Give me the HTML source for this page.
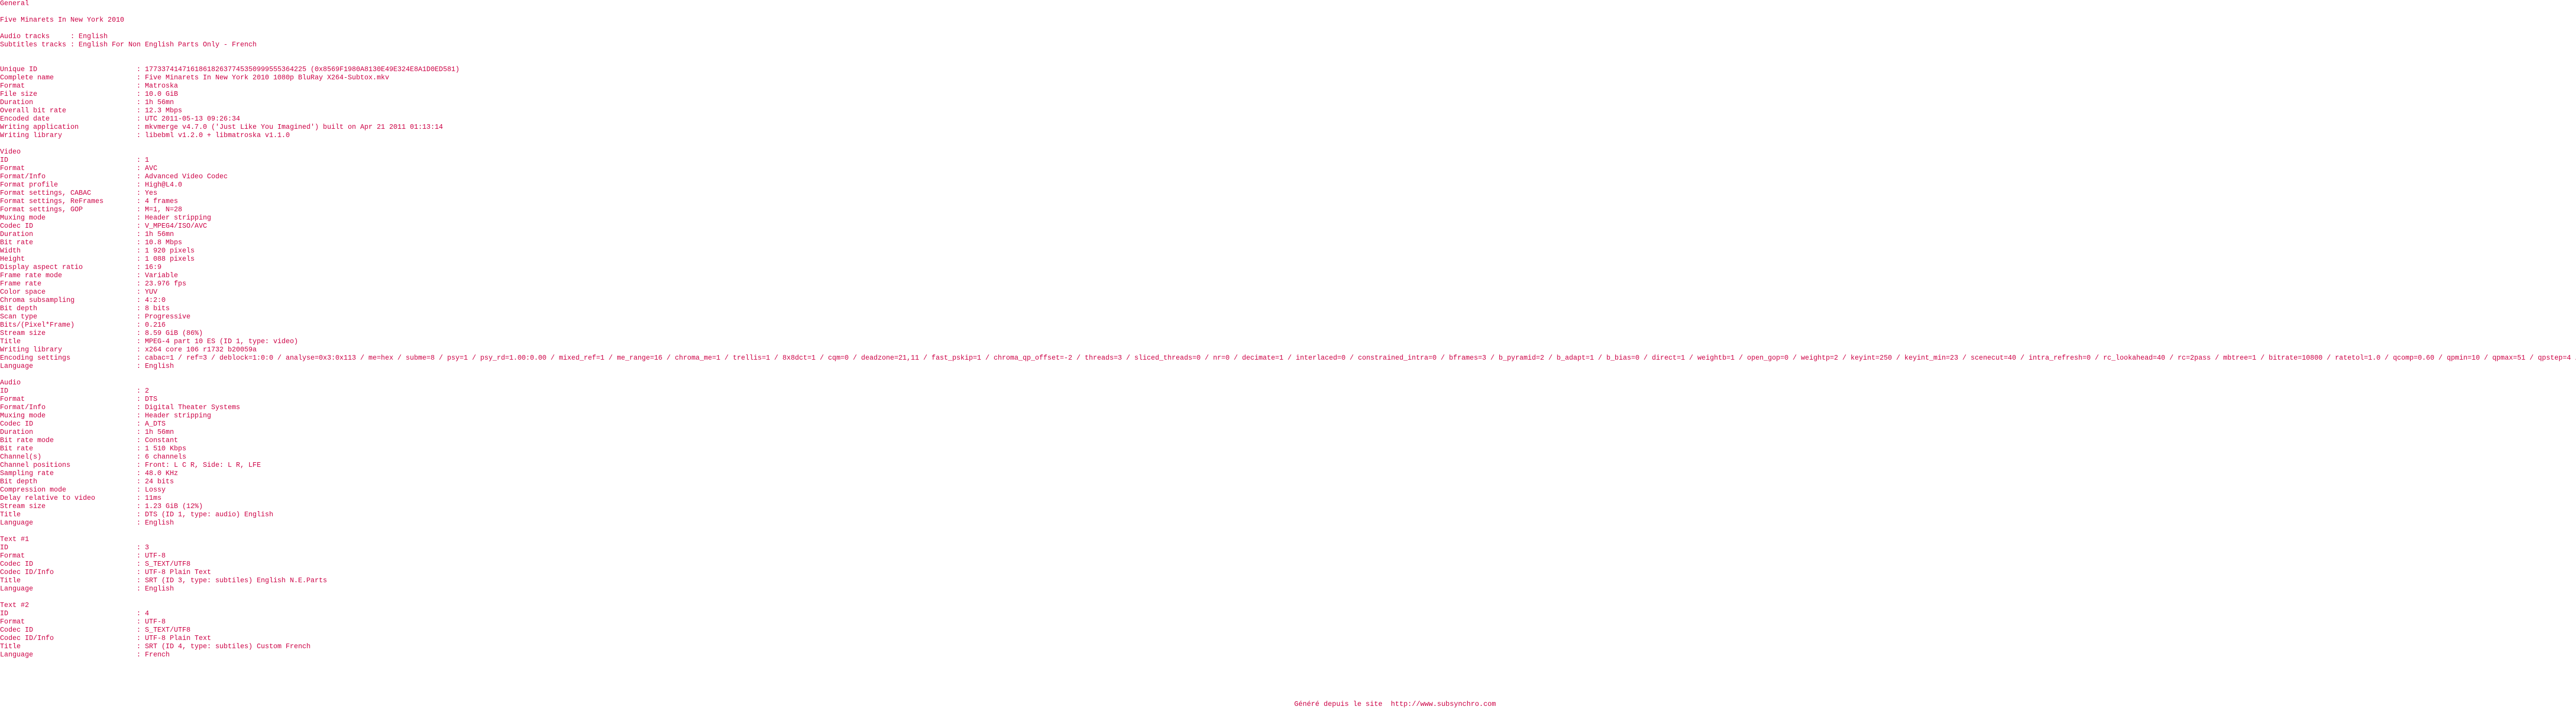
<!DOCTYPE html>
<html><head><meta charset="utf-8"><style>
html,body{margin:0;padding:0;background:#fff;width:5416px;height:1376px;overflow:hidden;position:relative}
.wrap{position:absolute;left:0;top:0;width:5416px;height:1376px;overflow:hidden}
pre{position:absolute;left:0;top:0;width:5416px;overflow:hidden;margin:0;font-family:"Liberation Mono",monospace;font-size:13.4px;line-height:16px;color:#cc0044;white-space:pre}
.f{position:absolute;left:2512px;top:1361px;font-family:"Liberation Mono",monospace;font-size:13.6px;line-height:14px;color:#cc0044;white-space:pre}
</style></head><body>
<div class="wrap">
<pre>General

Five Minarets In New York 2010

Audio tracks     : English
Subtitles tracks : English For Non English Parts Only - French


Unique ID                        : 177337414716186182637745350999555364225 (0x8569F1980A8130E49E324E8A1D0ED581)
Complete name                    : Five Minarets In New York 2010 1080p BluRay X264-Subtox.mkv
Format                           : Matroska
File size                        : 10.0 GiB
Duration                         : 1h 56mn
Overall bit rate                 : 12.3 Mbps
Encoded date                     : UTC 2011-05-13 09:26:34
Writing application              : mkvmerge v4.7.0 ('Just Like You Imagined') built on Apr 21 2011 01:13:14
Writing library                  : libebml v1.2.0 + libmatroska v1.1.0

Video
ID                               : 1
Format                           : AVC
Format/Info                      : Advanced Video Codec
Format profile                   : High@L4.0
Format settings, CABAC           : Yes
Format settings, ReFrames        : 4 frames
Format settings, GOP             : M=1, N=28
Muxing mode                      : Header stripping
Codec ID                         : V_MPEG4/ISO/AVC
Duration                         : 1h 56mn
Bit rate                         : 10.8 Mbps
Width                            : 1 920 pixels
Height                           : 1 088 pixels
Display aspect ratio             : 16:9
Frame rate mode                  : Variable
Frame rate                       : 23.976 fps
Color space                      : YUV
Chroma subsampling               : 4:2:0
Bit depth                        : 8 bits
Scan type                        : Progressive
Bits/(Pixel*Frame)               : 0.216
Stream size                      : 8.59 GiB (86%)
Title                            : MPEG-4 part 10 ES (ID 1, type: video)
Writing library                  : x264 core 106 r1732 b20059a
Encoding settings                : cabac=1 / ref=3 / deblock=1:0:0 / analyse=0x3:0x113 / me=hex / subme=8 / psy=1 / psy_rd=1.00:0.00 / mixed_ref=1 / me_range=16 / chroma_me=1 / trellis=1 / 8x8dct=1 / cqm=0 / deadzone=21,11 / fast_pskip=1 / chroma_qp_offset=-2 / threads=3 / sliced_threads=0 / nr=0 / decimate=1 / interlaced=0 / constrained_intra=0 / bframes=3 / b_pyramid=2 / b_adapt=1 / b_bias=0 / direct=1 / weightb=1 / open_gop=0 / weightp=2 / keyint=250 / keyint_min=23 / scenecut=40 / intra_refresh=0 / rc_lookahead=40 / rc=2pass / mbtree=1 / bitrate=10800 / ratetol=1.0 / qcomp=0.60 / qpmin=10 / qpmax=51 / qpstep=4 / cplxblur=20.0 / qblur=0.5 / ip_ratio=1.40
Language                         : English

Audio
ID                               : 2
Format                           : DTS
Format/Info                      : Digital Theater Systems
Muxing mode                      : Header stripping
Codec ID                         : A_DTS
Duration                         : 1h 56mn
Bit rate mode                    : Constant
Bit rate                         : 1 510 Kbps
Channel(s)                       : 6 channels
Channel positions                : Front: L C R, Side: L R, LFE
Sampling rate                    : 48.0 KHz
Bit depth                        : 24 bits
Compression mode                 : Lossy
Delay relative to video          : 11ms
Stream size                      : 1.23 GiB (12%)
Title                            : DTS (ID 1, type: audio) English
Language                         : English

Text #1
ID                               : 3
Format                           : UTF-8
Codec ID                         : S_TEXT/UTF8
Codec ID/Info                    : UTF-8 Plain Text
Title                            : SRT (ID 3, type: subtiles) English N.E.Parts
Language                         : English

Text #2
ID                               : 4
Format                           : UTF-8
Codec ID                         : S_TEXT/UTF8
Codec ID/Info                    : UTF-8 Plain Text
Title                            : SRT (ID 4, type: subtiles) Custom French
Language                         : French</pre>
<div class="f">Généré depuis le site  http://www.subsynchro.com</div>
</div>
</body></html>
